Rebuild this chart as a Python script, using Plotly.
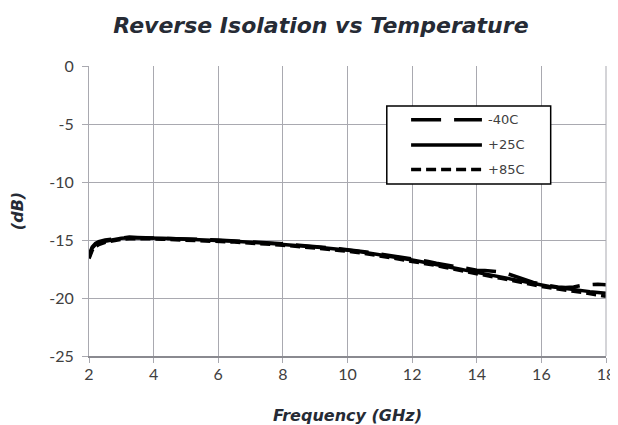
import plotly.graph_objects as go

freq = [2.0, 2.05, 2.1, 2.2, 2.3, 2.5, 2.75,
        3.0, 3.25, 3.5, 3.75, 4.0, 4.25, 4.5, 4.75, 5.0, 5.25, 5.5, 5.75,
        6.0, 6.25, 6.5, 6.75, 7.0, 7.25, 7.5, 7.75, 8.0, 8.25, 8.5, 8.75,
        9.0, 9.25, 9.5, 9.75, 10.0, 10.25, 10.5, 10.75, 11.0, 11.25, 11.5, 11.75,
        12.0, 12.25, 12.5, 12.75, 13.0, 13.25, 13.5, 13.75, 14.0, 14.25, 14.5, 14.75,
        15.0, 15.25, 15.5, 15.75, 16.0, 16.25, 16.5, 16.75, 17.0, 17.25, 17.5, 17.75, 18.0]

iso_m40 = [-16.3, -15.9, -15.6, -15.3, -15.15, -15.0, -14.9,
           -14.8, -14.75, -14.78, -14.8, -14.82, -14.8, -14.86, -14.85, -14.9, -14.92, -14.95, -14.97,
           -15.0, -15.05, -15.08, -15.1, -15.15, -15.2, -15.22, -15.28, -15.33, -15.38, -15.42, -15.5,
           -15.55, -15.6, -15.68, -15.75, -15.82, -15.9, -16.0, -16.1, -16.2, -16.3, -16.42, -16.5,
           -16.6, -16.75, -16.85, -17.0, -17.12, -17.25, -17.4, -17.5, -17.6, -17.62, -17.66, -17.75,
           -17.95, -18.2, -18.45, -18.65, -18.8, -18.95, -19.05, -19.1, -19.05, -18.9, -18.85, -18.82, -18.85]

iso_p25 = [-16.5, -16.0, -15.7, -15.4, -15.25, -15.1, -14.95,
           -14.85, -14.8, -14.8, -14.82, -14.85, -14.85, -14.88, -14.9, -14.92, -14.95, -14.98, -15.0,
           -15.05, -15.08, -15.1, -15.15, -15.18, -15.22, -15.27, -15.32, -15.38, -15.42, -15.48, -15.53,
           -15.6, -15.66, -15.72, -15.8, -15.86, -15.95, -16.05, -16.15, -16.27, -16.38, -16.5, -16.6,
           -16.72, -16.85, -16.97, -17.1, -17.25, -17.38, -17.52, -17.66, -17.8, -17.95, -18.08, -18.2,
           -18.35, -18.48, -18.6, -18.75, -18.9, -19.0, -19.1, -19.2, -19.3, -19.38, -19.45, -19.52, -19.6]

iso_p85 = [-16.6, -16.2, -15.9, -15.55, -15.4, -15.2, -15.05,
           -14.95, -14.9, -14.88, -14.9, -14.9, -14.93, -14.95, -14.97, -15.0, -15.02, -15.05, -15.08,
           -15.1, -15.14, -15.18, -15.22, -15.25, -15.3, -15.35, -15.4, -15.45, -15.5, -15.55, -15.6,
           -15.68, -15.75, -15.82, -15.9, -15.95, -16.05, -16.15, -16.25, -16.35, -16.48, -16.6, -16.72,
           -16.85, -16.95, -17.08, -17.2, -17.35, -17.5, -17.62, -17.78, -17.92, -18.05, -18.18, -18.3,
           -18.42, -18.55, -18.7, -18.85, -19.0, -19.12, -19.22, -19.32, -19.42, -19.52, -19.62, -19.75, -19.85]

series_names = ["-40C", "+25C", "+85C"]
x_ticks = [2, 4, 6, 8, 10, 12, 14, 16, 18]
y_ticks = [0, -5, -10, -15, -20, -25]
y_tick_text = ["0", "-5", "-10", "-15", "-20", "-25"]

dashes = ["30px,13px", "solid", "10px,5px"]
values = [iso_m40, iso_p25, iso_p85]

fig = go.Figure()
for name, dash, vals in zip(series_names, dashes, values):
    fig.add_trace(go.Scatter(x=freq, y=vals, mode="lines", name=name, showlegend=False,
                             line=dict(color="black", width=3.5, dash=dash)))

tick_font = dict(family="Lato, sans-serif", size=16, color="#404040")
title_font = "DejaVu Sans, sans-serif"
grid_col = "#a9a9b0"
# page body has an 8px default margin, so the figure is 8px smaller and margins 8px less
fig.update_layout(
    width=610, height=417,
    margin=dict(l=81, r=12, t=58, b=69, autoexpand=False),
    paper_bgcolor="white", plot_bgcolor="white",
    title=dict(text="<b><i>Reverse Isolation vs Temperature</i></b>",
               x=0.513, xanchor="center", y=0.958, yanchor="middle",
               font=dict(family=title_font, size=22, color="#262b35")),
    showlegend=False,
)
fig.update_xaxes(range=[2, 18], tickvals=x_ticks, showgrid=True, gridcolor=grid_col, gridwidth=1,
                 showline=True, linecolor="#8a8a90", linewidth=1.5, mirror=False, automargin=False,
                 ticks="outside", ticklen=5, tickcolor=grid_col, tickfont=tick_font, zeroline=False,
                 ticklabelstandoff=-2,
                 title=dict(text="<b><i>Frequency (GHz)</i></b>", standoff=30,
                            font=dict(family=title_font, size=16, color="#262b35")))
fig.update_yaxes(range=[-25, 0], tickvals=y_ticks, ticktext=y_tick_text, showgrid=True,
                 gridcolor=grid_col, gridwidth=1, automargin=False,
                 showline=True, linecolor=grid_col, linewidth=1,
                 ticks="outside", ticklen=6, tickcolor=grid_col, tickfont=tick_font, zeroline=False,
                 ticklabelstandoff=5,
                 title=dict(text="<b><i>(dB)</i></b>", standoff=27,
                            font=dict(family=title_font, size=16, color="#262b35")))
fig.add_shape(type="line", xref="paper", yref="paper", x0=1, x1=1, y0=0, y1=1,
              line=dict(color=grid_col, width=1))

# custom legend (box, sample lines, labels) in plot-area fractions
fig.add_shape(type="rect", xref="paper", yref="paper", x0=0.576, x1=0.893, y0=0.593, y1=0.862,
              line=dict(color="black", width=1.5), fillcolor="white", layer="above")
legend_rows = [0.8145, 0.728, 0.643]
for name, dash, yr in zip(series_names, dashes, legend_rows):
    fig.add_shape(type="line", xref="paper", yref="paper", x0=0.623, x1=0.760, y0=yr, y1=yr,
                  line=dict(color="black", width=3.5, dash=dash), layer="above")
    fig.add_annotation(xref="paper", yref="paper", x=0.768, y=yr, xanchor="left", yanchor="middle",
                       text=name, showarrow=False,
                       font=dict(family="DejaVu Sans, sans-serif", size=13, color="#404040"))

fig.write_html("out.html")
